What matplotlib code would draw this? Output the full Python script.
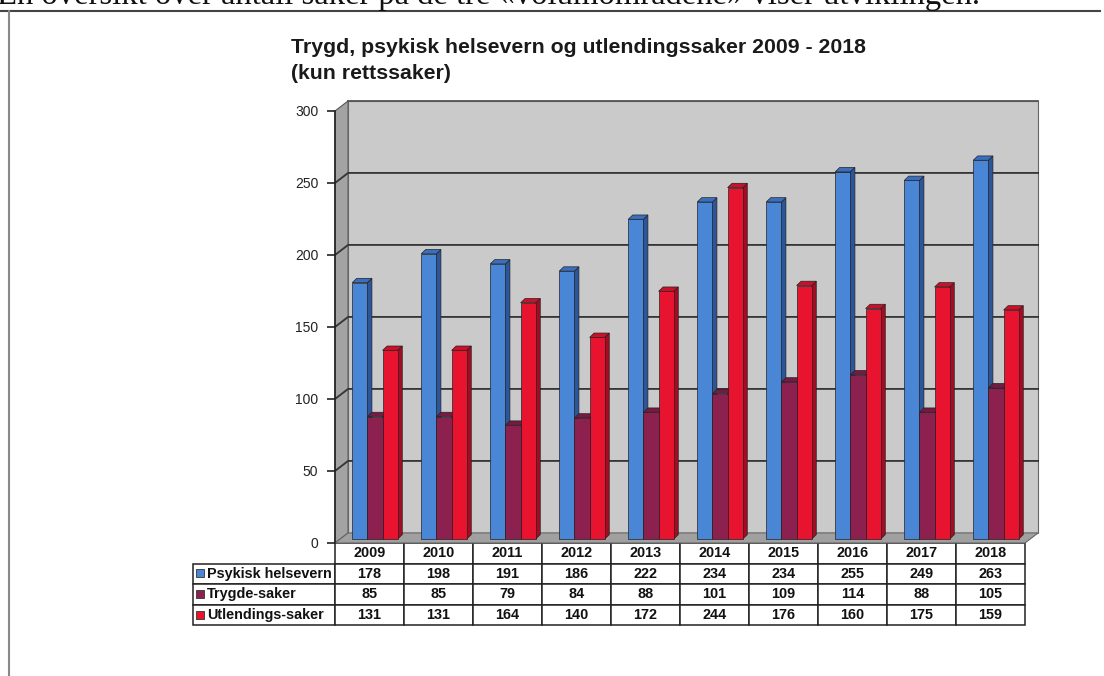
import matplotlib
matplotlib.use("Agg")
import matplotlib.pyplot as plt
from matplotlib.patches import Rectangle, Polygon

plt.rcParams['font.family'] = ['Liberation Sans', 'DejaVu Sans']

years = ['2009', '2010', '2011', '2012', '2013', '2014', '2015', '2016', '2017', '2018']
series_names = ['Psykisk helsevern', 'Trygde-saker', 'Utlendings-saker']
psykisk = [178, 198, 191, 186, 222, 234, 234, 255, 249, 263]
trygd = [85, 85, 79, 84, 88, 101, 109, 114, 88, 105]
utlending = [131, 131, 164, 140, 172, 244, 176, 160, 175, 159]
yticks = [0, 50, 100, 150, 200, 250, 300]

front_cols = ['#4a86d6', '#8c2150', '#e8142f']
top_cols = ['#3a6fc0', '#761a43', '#cc1029']
side_cols = ['#2b569c', '#5c1233', '#a50c22']

W, H = 1104, 676
fig = plt.figure(figsize=(W / 100, H / 100), dpi=100)

# page caption (cut off at the top of the scan)
fig.text(-0.003, 1 - 4 / H,
         'En oversikt over antall saker på de tre «volumområdene» viser utviklingen.',
         family='Liberation Serif', fontsize=23.5, va='baseline', ha='left', color='#111')

# frame around the chart
fig.add_artist(plt.Line2D([0, 1100 / W], [1 - 11 / H, 1 - 11 / H], color='#444', lw=1.5))
fig.add_artist(plt.Line2D([9 / W, 9 / W], [0, 1 - 11 / H], color='#888', lw=1.5))

# title
fig.text(291 / W, 1 - 53 / H, 'Trygd, psykisk helsevern og utlendingssaker 2009 - 2018',
         fontsize=15.3, fontweight='bold', color='#1a1a1a', va='baseline')
fig.text(291 / W, 1 - 79 / H, '(kun rettssaker)',
         fontsize=15.3, fontweight='bold', color='#1a1a1a', va='baseline')

# axes = front plane of the 3D box
x0px, x1px, y0px, y1px = 335, 1025, 543, 111
ax = fig.add_axes([x0px / W, 1 - y0px / H, (x1px - x0px) / W, (y0px - y1px) / H])
ax.set_xlim(0, 10)
ax.set_ylim(0, 300)
ax.patch.set_visible(False)
for s in ['top', 'right', 'bottom']:
    ax.spines[s].set_visible(False)
ax.spines['left'].set_color('#222')
ax.spines['left'].set_linewidth(1.2)
ax.spines['left'].set_zorder(50)
ax.set_xticks([])
ax.set_yticks(yticks)
ax.tick_params(axis='y', direction='out', length=6, width=1.2, color='#222',
               labelsize=10, pad=6, labelcolor='#222')

dx, dy = 0.19, 7.0  # depth of the box
# side wall
ax.add_patch(Polygon([(0, 0), (0, 300), (dx, 300 + dy), (dx, dy)], closed=True,
                     facecolor='#a3a3a3', edgecolor='#555', lw=0.8, clip_on=False, zorder=1))
# back wall
ax.add_patch(Polygon([(dx, dy), (10 + dx, dy), (10 + dx, 300 + dy), (dx, 300 + dy)], closed=True,
                     facecolor='#cacaca', edgecolor='#666', lw=0.8, clip_on=False, zorder=1))
# floor
ax.add_patch(Polygon([(0, 0), (10, 0), (10 + dx, dy), (dx, dy)], closed=True,
                     facecolor='#a0a0a0', edgecolor='#666', lw=0.8, clip_on=False, zorder=2))
for v in yticks[1:-1]:
    ax.plot([0, dx, 10 + dx], [v, v + dy, v + dy], color='#333', lw=1.3, clip_on=False, zorder=3)
ax.plot([dx, 10 + dx], [300 + dy, 300 + dy], color='#555', lw=1.3, clip_on=False, zorder=3)

# bars
series = [psykisk, trygd, utlending]
bw, off, base = 0.22, 0.25, 2.8
ddx, ddy = 0.065, 3.0
z = 5
for i in range(len(years)):
    for k, vals in enumerate(series):
        xa = i + off + k * bw
        h = vals[i]
        ax.add_patch(Polygon([(xa + bw, base), (xa + bw + ddx, base + ddy),
                              (xa + bw + ddx, base + h + ddy), (xa + bw, base + h)],
                             closed=True, facecolor=side_cols[k], edgecolor='#222', lw=0.5,
                             clip_on=False, zorder=z))
        ax.add_patch(Polygon([(xa, base + h), (xa + bw, base + h),
                              (xa + bw + ddx, base + h + ddy), (xa + ddx, base + h + ddy)],
                             closed=True, facecolor=top_cols[k], edgecolor='#222', lw=0.5,
                             clip_on=False, zorder=z))
        ax.add_patch(Rectangle((xa, base), bw, h, facecolor=front_cols[k], edgecolor='#222',
                               lw=0.5, clip_on=False, zorder=z + 1))
        z += 2

# data table
cell_text = [[''] + years]
for name, vals in zip(series_names, series):
    cell_text.append([name] + [str(v) for v in vals])
lab_px, col_px = 142, 69
tbl_left, tbl_bottom = 193, 625
col_widths = [lab_px] + [col_px] * len(years)
tbl = ax.table(cellText=cell_text, colWidths=col_widths, cellLoc='center',
               bbox=[(tbl_left - x0px) / (x1px - x0px), -(tbl_bottom - y0px) / (y0px - y1px),
                     (x1px - tbl_left) / (x1px - x0px), (tbl_bottom - y0px) / (y0px - y1px)])
tbl.auto_set_font_size(False)
tbl.set_fontsize(10.4)
for (r, c), cell in tbl.get_celld().items():
    cell.set_edgecolor('#222')
    cell.set_linewidth(1.1)
    cell.get_text().set_fontweight('bold')
    cell.get_text().set_color('#111')
    if c == 0:
        cell.set_text_props(ha='left')
        if r == 0:
            cell.set_visible(False)

# legend keys in the table
for k in range(len(series_names)):
    ycen = 562 + 21 * k + 10.5
    ax.add_patch(Rectangle(((196 - x0px) / (x1px - x0px), -(ycen + 4 - y0px) / (y0px - y1px)),
                           8 / (x1px - x0px), 8 / (y0px - y1px), transform=ax.transAxes,
                           facecolor=front_cols[k], edgecolor='#333', lw=0.6,
                           clip_on=False, zorder=60))

fig.savefig('out.png', dpi=100)
